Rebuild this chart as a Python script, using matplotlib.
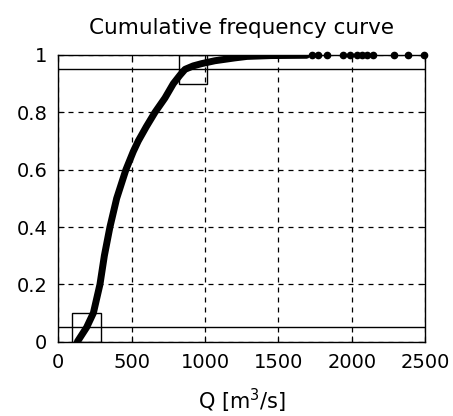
import matplotlib.pyplot as plt
from matplotlib.patches import Rectangle

plt.rcParams['font.family'] = ['DejaVu Sans']

# main part of the curve
q_curve = [130, 193, 239, 284, 314, 352, 398, 461, 511, 545, 600, 659, 727, 784,
           830, 864, 920, 978, 1068, 1205, 1285, 1450, 1693]
f_curve = [0.0, 0.05, 0.1, 0.2, 0.3, 0.4, 0.5, 0.6, 0.663, 0.7, 0.75, 0.8, 0.85, 0.9,
           0.93, 0.95, 0.962, 0.97, 0.98, 0.99, 0.995, 0.998, 0.999]

# isolated points in the tail
q_tail = [1727, 1773, 1830, 1943, 1989, 2035, 2068, 2102, 2144, 2289, 2387, 2490]
f_tail = [1.0] * len(q_tail)

# limits and boxes
lim_lo, lim_hi = 0.05, 0.95
box_lo = (92, 0.0, 198, 0.1)
box_hi = (822, 0.9, 190, 0.1)

fig = plt.figure(figsize=(4.53, 4.16), dpi=100)
ax = fig.add_axes([0.1287, 0.1786, 0.8096, 0.6892])

ax.plot(q_curve, f_curve, '-', color='black', lw=5, solid_capstyle='round',
        solid_joinstyle='round')
ax.plot(q_tail, f_tail, 'o', color='black', ms=4.5, clip_on=False)

ax.axhline(lim_lo, color='black', lw=1)
ax.axhline(lim_hi, color='black', lw=1)
for b in (box_lo, box_hi):
    ax.add_patch(Rectangle((b[0], b[1]), b[2], b[3], fill=False, ec='black', lw=1))

ax.set_xlim(0, 2500)
ax.set_ylim(0, 1)
ax.set_xticks([0, 500, 1000, 1500, 2000, 2500])
ax.set_yticks([0, 0.2, 0.4, 0.6, 0.8, 1])
ax.set_yticklabels(['0', '0.2', '0.4', '0.6', '0.8', '1'])
ax.grid(True, color='black', linestyle=(0, (4, 4)), lw=0.9)
ax.tick_params(direction='in', top=True, right=True, length=4, labelsize=14,
               color='black', pad=8)
for s in ax.spines.values():
    s.set_linewidth(1)

ax.set_title('Cumulative frequency curve', fontsize=15.5, pad=15)
ax.set_xlabel('Q [m$^3$/s]', fontsize=15, labelpad=11)

fig.savefig('out.png', dpi=100)
